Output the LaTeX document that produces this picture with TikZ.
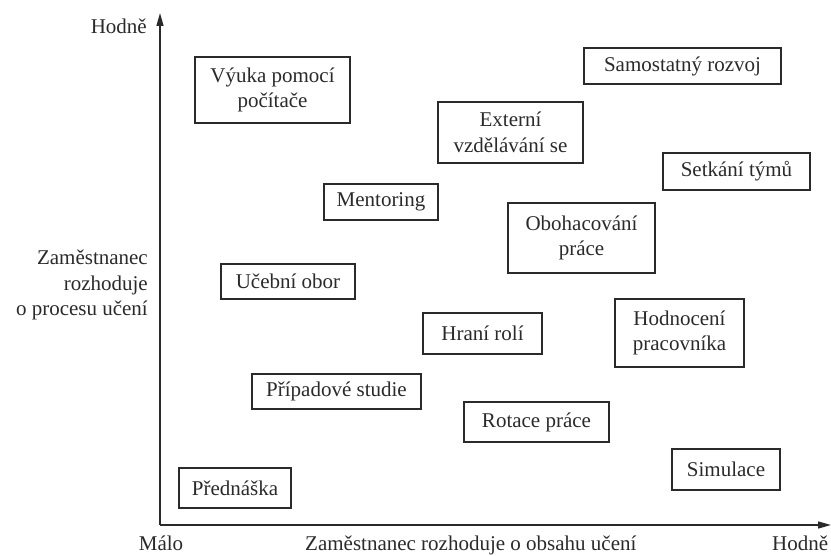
\documentclass[tikz,border=0pt]{standalone}
\usepackage{fontspec}
\setmainfont{Liberation Serif}
\usetikzlibrary{arrows.meta}
\definecolor{ink}{HTML}{2A2A2A}
\begin{document}
\begin{tikzpicture}[x=1pt,y=-1pt,
  every node/.style={font=\fontsize{21}{25.5}\selectfont, text=ink},
  box/.style={draw=ink, line width=1.1pt, inner sep=0pt, align=center},
  axis/.style={draw=ink, line width=1.4pt, -{Triangle[length=13pt,width=7pt]}},
  lbl/.style={inner sep=0pt}]
\useasboundingbox (0,0) rectangle (831,556);

% axes
\coordinate (origin) at (160,525);
\coordinate (ytip) at (160,13);
\coordinate (xtip) at (831,525);
\draw[axis] (origin) -- (ytip);
\draw[axis] (origin) -- (xtip);

% axis labels
\node[lbl, anchor=base east] (ytop) at (147,34) {Hodně};
\node[lbl, anchor=east, align=right] (ylabel) at (148,285)
  {Zaměstnanec\\rozhoduje\\o procesu učení};
\node[lbl, anchor=base] (xlow) at (161,550) {Málo};
\node[lbl, anchor=base west] (xlabel) at (305,550) {Zaměstnanec rozhoduje o obsahu učení};
\node[lbl, anchor=base west] (xhigh) at (772,550) {Hodně};

% training methods
\node[box, minimum width=155, minimum height=66] (vyuka) at (272.5,90) {Výuka pomocí\\počítače};
\node[box, minimum width=197, minimum height=36] (samostatny) at (682.5,66) {Samostatný rozvoj};
\node[box, minimum width=145, minimum height=61] (externi) at (510.5,132.5) {Externí\\vzdělávání se};
\node[box, minimum width=147, minimum height=37] (setkani) at (736.5,171.5) {Setkání týmů};
\node[box, minimum width=114, minimum height=36] (mentoring) at (381,202) {Mentoring};
\node[box, minimum width=147, minimum height=70] (obohacovani) at (581.5,238) {Obohacování\\práce};
\node[box, minimum width=134, minimum height=35] (ucebni) at (288,281.5) {Učební obor};
\node[box, minimum width=119, minimum height=41] (hrani) at (482.5,333.5) {Hraní rolí};
\node[box, minimum width=129, minimum height=68] (hodnoceni) at (679.5,333) {Hodnocení\\pracovníka};
\node[box, minimum width=169, minimum height=35] (pripadove) at (336.5,391.5) {Případové studie};
\node[box, minimum width=145, minimum height=40] (rotace) at (536.5,422) {Rotace práce};
\node[box, minimum width=108, minimum height=41] (simulace) at (726,469.5) {Simulace};
\node[box, minimum width=112, minimum height=40] (prednaska) at (235,488) {Přednáška};
\end{tikzpicture}
\end{document}
